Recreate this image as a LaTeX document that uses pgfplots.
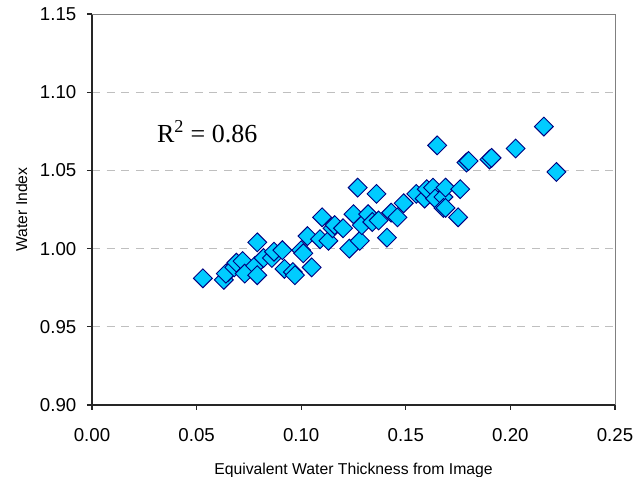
\documentclass[border=0pt]{standalone}
\usepackage{fontspec}
\setmainfont{Liberation Sans}
\newfontfamily\timesfont{Liberation Serif}
\usepackage{pgfplots}
\pgfplotsset{compat=1.18}
\definecolor{mfill}{HTML}{00CCFF}
\definecolor{medge}{HTML}{000080}
\definecolor{gridc}{HTML}{BFBFBF}
\begin{document}
\begin{tikzpicture}
\path[use as bounding box] (-69pt,-54pt) rectangle (413.25pt,303.75pt);
\begin{axis}[
  at={(0,0)}, anchor=south west,
  scale only axis,
  width=392.25pt, height=293.25pt,
  xmin=0, xmax=0.25, ymin=0.90, ymax=1.15,
  xtick={0,0.05,...,0.25},
  ytick={0.90,0.95,1.00,1.05,1.10,1.15},
  axis lines=left,
  axis line style={-, line width=1.1pt, black!85},
  tick align=outside,
  major tick length=3.75pt,
  tick style={line width=0.8pt, black!85},
  ymajorgrids,
  major grid style={gridc, line width=0.6pt, dash pattern=on 6pt off 5pt},
  /pgf/number format/assume math mode=true,
  xticklabel style={/pgf/number format/.cd, fixed, fixed zerofill, precision=2, /tikz/.cd, yshift=-10pt},
  yticklabel style={/pgf/number format/.cd, fixed, fixed zerofill, precision=2, /tikz/.cd, xshift=-4.5pt},
  ticklabel style={font=\fontsize{14}{16}\selectfont},
  xlabel={Equivalent Water Thickness from Image},
  ylabel={Water Index},
  label style={font=\fontsize{11.8}{13}\selectfont},
  xlabel style={at={(axis description cs:0.5,-0.168)}, anchor=center},
  ylabel style={at={(axis description cs:-0.135,0.5)}, anchor=center},
  clip=false,
]
\draw[black!50, line width=0.6pt] (rel axis cs:0,1) -- (rel axis cs:1,1) -- (rel axis cs:1,0);
\addplot[only marks, mark=square*, mark size=5pt,
  mark options={rotate=45, fill=mfill, draw=medge, line width=0.7pt}]
coordinates {
(0.053,0.981) (0.063,0.980) (0.065,0.985) (0.064,0.984) (0.068,0.988)
(0.069,0.991) (0.072,0.992) (0.073,0.984) (0.078,0.989) (0.079,1.004)
(0.079,0.983) (0.082,0.994) (0.086,0.994) (0.087,0.998) (0.091,0.999)
(0.092,0.987) (0.096,0.985) (0.097,0.983) (0.100,0.999) (0.101,0.997)
(0.103,1.008) (0.105,0.988) (0.109,1.006) (0.110,1.020) (0.113,1.005)
(0.115,1.013) (0.116,1.015) (0.120,1.013) (0.123,1.000) (0.125,1.022)
(0.127,1.039) (0.128,1.005) (0.129,1.015) (0.132,1.022) (0.134,1.017)
(0.136,1.035) (0.137,1.018) (0.141,1.007) (0.143,1.023) (0.146,1.020)
(0.149,1.029) (0.155,1.035) (0.159,1.032) (0.160,1.038) (0.163,1.039)
(0.164,1.032) (0.165,1.066) (0.168,1.033) (0.168,1.026) (0.169,1.039)
(0.169,1.026) (0.175,1.020) (0.176,1.038) (0.179,1.055) (0.180,1.056)
(0.190,1.057) (0.191,1.058) (0.2025,1.064) (0.216,1.078) (0.222,1.049)
};
\node[anchor=base west, inner sep=0pt, font=\timesfont\fontsize{19.5}{22}\selectfont]
  at (axis cs:0.031,1.068) {R\textsuperscript{2} = 0.86};
\end{axis}
\end{tikzpicture}
\end{document}
